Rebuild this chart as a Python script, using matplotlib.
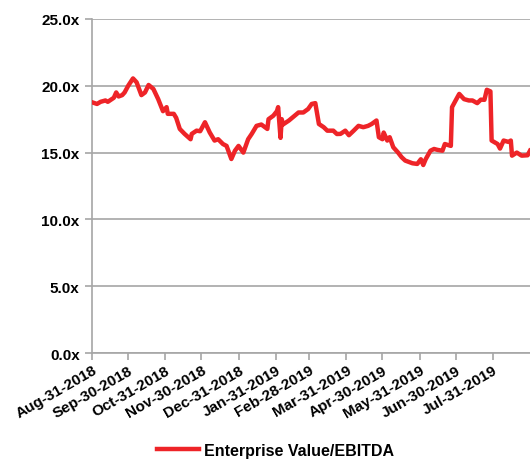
import matplotlib
matplotlib.use("Agg")
import matplotlib.pyplot as plt
import matplotlib.dates as mdates
import matplotlib.ticker as ticker
import pandas as pd

plt.rcParams['font.family'] = ['Liberation Sans', 'DejaVu Sans']

# Enterprise Value / EBITDA (days after Aug-31-2018)
start_date = '2018-08-31'
day_offset = [0, 4, 7, 11, 13, 18, 20, 22, 25, 27, 30, 34, 37, 41, 44, 47, 51, 55,
              59, 62, 63, 68, 70, 73, 77, 82, 83, 87, 90, 94, 98, 102, 105, 109,
              112, 116, 119, 122, 126, 130, 133, 137, 141, 146, 147, 151, 154, 155,
              157, 158, 159, 164, 168, 172, 176, 180, 183, 186, 189, 193, 196, 201,
              204, 207, 211, 214, 218, 222, 226, 230, 233, 237, 239, 242, 243, 246,
              248, 251, 255, 258, 261, 267, 271, 274, 276, 278, 282, 285, 288, 292,
              294, 299, 300, 303, 306, 310, 314, 317, 321, 324, 327, 329, 332, 333,
              338, 340, 343, 347, 349, 350, 354, 358, 363, 365]
ev_ebitda = [18.76, 18.64, 18.8, 18.9, 18.8, 19.1, 19.5, 19.2, 19.3, 19.5, 20.0,
             20.55, 20.26, 19.3, 19.5, 20.06, 19.76, 19.0, 18.1, 18.4, 17.9, 17.9,
             17.6, 16.77, 16.4, 16.0, 16.4, 16.64, 16.6, 17.27, 16.5, 15.9, 16.0,
             15.64, 15.5, 14.52, 15.14, 15.5, 15.0, 16.0, 16.4, 17.0, 17.1, 16.77,
             17.5, 17.76, 18.1, 18.4, 16.1, 17.5, 17.1, 17.4, 17.7, 18.0, 18.0,
             18.26, 18.64, 18.7, 17.14, 16.9, 16.64, 16.64, 16.39, 16.4, 16.64,
             16.3, 16.64, 17.0, 16.9, 17.0, 17.14, 17.4, 16.15, 16.0, 16.5, 15.9,
             16.15, 15.4, 15.0, 14.65, 14.4, 14.2, 14.15, 14.5, 14.07, 14.5, 15.14,
             15.27, 15.2, 15.14, 15.64, 15.5, 18.4, 18.9, 19.39, 19.0, 18.9, 18.9,
             18.7, 18.96, 18.95, 19.7, 19.58, 15.9, 15.64, 15.3, 15.9, 15.8, 15.9,
             14.77, 15.0, 14.77, 14.8, 15.14]

tick_dates = ['2018-08-31', '2018-09-30', '2018-10-31', '2018-11-30', '2018-12-31',
              '2019-01-31', '2019-02-28', '2019-03-31', '2019-04-30', '2019-05-31',
              '2019-06-30', '2019-07-31']
end_date = '2019-08-31'

dates = pd.Timestamp(start_date) + pd.to_timedelta(day_offset, unit='D')

grey = '#A6A6A6'
fig = plt.figure(figsize=(5.3, 4.64), dpi=100)
ax = fig.add_axes([0.174, 0.237, 0.826, 0.72])

ax.plot(dates, ev_ebitda, color='#EE2428', linewidth=3.2, solid_joinstyle='round',
        label='Enterprise Value/EBITDA', zorder=3, clip_on=True)

ax.set_ylim(0, 25)
ax.set_yticks([0, 5, 10, 15, 20, 25])
ax.yaxis.set_major_formatter(ticker.FuncFormatter(lambda v, p: f'{v:.1f}x'))
ax.set_xlim(pd.Timestamp(start_date), pd.Timestamp(end_date))
ax.set_xticks(pd.to_datetime(tick_dates))
ax.xaxis.set_major_formatter(mdates.DateFormatter('%b-%d-%Y'))

ax.grid(axis='y', color=grey, linewidth=1.2, zorder=0)
for s in ['top', 'right']:
    ax.spines[s].set_visible(False)
for s in ['left', 'bottom']:
    ax.spines[s].set_color(grey)
    ax.spines[s].set_linewidth(1.2)
ax.tick_params(axis='both', colors=grey, width=1.2, length=5)
ax.tick_params(axis='y', labelcolor='black', labelsize=11, pad=4)
ax.tick_params(axis='x', labelcolor='black', labelsize=11, pad=2)
for lab in ax.get_yticklabels():
    lab.set_fontweight('bold')
for lab in ax.get_xticklabels():
    lab.set_fontweight('bold')
    lab.set_rotation(30)
    lab.set_ha('right')
    lab.set_rotation_mode('anchor')

fig.legend(loc='lower center', bbox_to_anchor=(0.52, -0.02), frameon=False,
           prop={'weight': 'bold', 'size': 11.5}, handlelength=2.6, handletextpad=0.3)

fig.savefig('out.png', dpi=100)
